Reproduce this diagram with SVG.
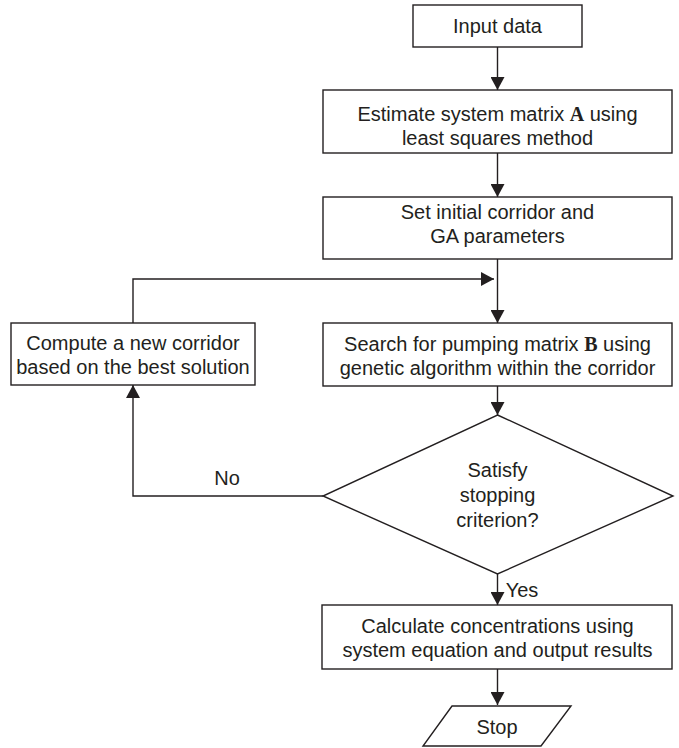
<svg xmlns="http://www.w3.org/2000/svg" width="679" height="748" viewBox="0 0 679 748">
<style>
.box{fill:#fff;stroke:#231f20;stroke-width:1.4}
.t{font-family:"Liberation Sans",Arial,sans-serif;font-size:20px;fill:#231f20;text-anchor:middle}
.b{font-family:"Liberation Serif","Times New Roman",serif;font-weight:bold}
.c{fill:none;stroke:#231f20;stroke-width:1.4}
</style>
<defs>
<marker id="ah" viewBox="0 0 13 14" refX="13" refY="7" markerWidth="13" markerHeight="14" markerUnits="userSpaceOnUse" orient="auto">
<path d="M0,0 L13,7 L0,14 z" fill="#231f20"/>
</marker>
</defs>
<g id="connectors">
<line class="c" x1="497.5" y1="47" x2="497.5" y2="90" marker-end="url(#ah)"/>
<line class="c" x1="497.5" y1="153" x2="497.5" y2="197" marker-end="url(#ah)"/>
<line class="c" x1="497.5" y1="259" x2="497.5" y2="323" marker-end="url(#ah)"/>
<path class="c" d="M133,323 V279 H494" marker-end="url(#ah)"/>
<line class="c" x1="497.5" y1="386" x2="497.5" y2="415" marker-end="url(#ah)"/>
<line class="c" x1="497.5" y1="574" x2="497.5" y2="605" marker-end="url(#ah)"/>
<line class="c" x1="497.5" y1="669" x2="497.5" y2="705" marker-end="url(#ah)"/>
<path class="c" d="M323,496 H133 V385" marker-end="url(#ah)"/>
<text class="t" x="522" y="597">Yes</text>
<text class="t" x="227" y="485">No</text>
</g>
<g id="input">
<rect class="box" x="413" y="5" width="169" height="42"/>
<text class="t" x="497.5" y="33">Input data</text>
</g>
<g id="estimate">
<rect class="box" x="323" y="90" width="349" height="63"/>
<text class="t" x="497.5" y="121">Estimate system matrix <tspan class="b">A</tspan> using</text>
<text class="t" x="497.5" y="145">least squares method</text>
</g>
<g id="setinit">
<rect class="box" x="323" y="197" width="349" height="62"/>
<text class="t" x="497.5" y="219">Set initial corridor and</text>
<text class="t" x="497.5" y="243">GA parameters</text>
</g>
<g id="search">
<rect class="box" x="323" y="323" width="349" height="63"/>
<text class="t" x="497.5" y="351">Search for pumping matrix <tspan class="b">B</tspan> using</text>
<text class="t" x="497.5" y="375">genetic algorithm within the corridor</text>
</g>
<g id="compute">
<rect class="box" x="11" y="323" width="244" height="62"/>
<text class="t" x="133" y="350">Compute a new corridor</text>
<text class="t" x="133" y="374">based on the best solution</text>
</g>
<g id="decision">
<polygon class="box" points="497.5,415 673,496 497.5,574 323,496"/>
<text class="t" x="497.5" y="477">Satisfy</text>
<text class="t" x="497.5" y="502">stopping</text>
<text class="t" x="497.5" y="527">criterion?</text>
</g>
<g id="calculate">
<rect class="box" x="322" y="605" width="350" height="64"/>
<text class="t" x="497.5" y="633">Calculate concentrations using</text>
<text class="t" x="497.5" y="657">system equation and output results</text>
</g>
<g id="stop">
<polygon class="box" points="452,706 571,706 541,746 423,746"/>
<text class="t" x="497" y="734">Stop</text>
</g>
</svg>
